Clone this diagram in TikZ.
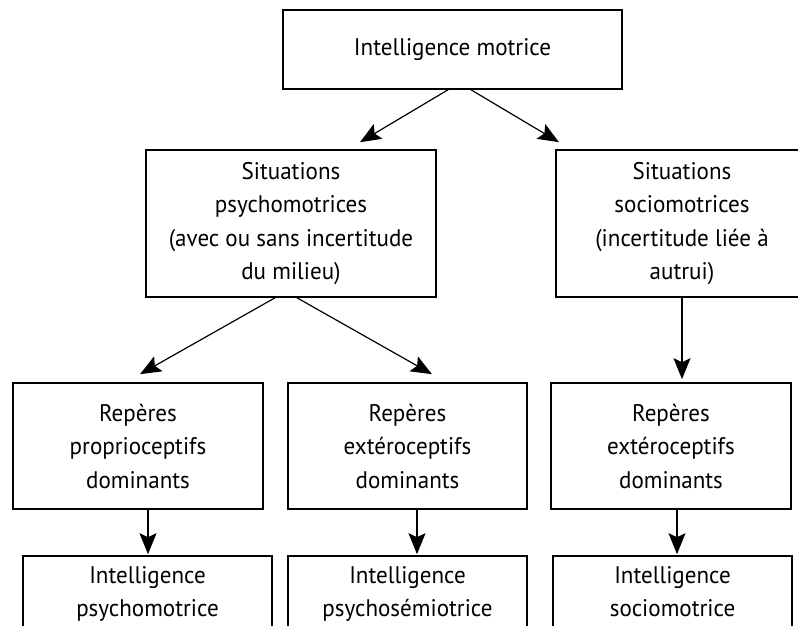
\documentclass[tikz,border=0pt]{standalone}
\usepackage{fontspec}
\setmainfont{PT Sans}[FakeStretch=0.96]
\usetikzlibrary{positioning,arrows.meta}

\begin{document}
\begin{tikzpicture}[x=1pt, y=-1pt, font=\fontsize{24}{33.5}\selectfont,
  boite/.style={draw, line width=1.6pt, align=center, inner sep=0pt},
  fleche/.style={-{Stealth[length=21pt,width=17pt,inset=4pt]}, line width=1.2pt}]
\useasboundingbox (0,0) rectangle (798,626);
\clip (0,0) rectangle (798,626);
% niveau 1
\node[boite, minimum width=339pt, minimum height=79pt] (motrice) at (452.5,49.5) {Intelligence motrice};
% niveau 2
\node[boite, minimum width=290pt, minimum height=147pt] (psy) at (291,223.5) {Situations\\ psychomotrices\\ (avec ou sans incertitude\\ du milieu)};
\node[boite, minimum width=252pt, minimum height=147pt] (soc) at (682,223.5) {Situations\\ sociomotrices\\ (incertitude liée à\\ autrui)};
% niveau 3
\node[boite, minimum width=250pt, minimum height=126pt] (propA) at (138,446) {Repères\\ proprioceptifs\\ dominants};
\node[boite, minimum width=239pt, minimum height=126pt] (extB) at (407.5,446) {Repères\\ extéroceptifs\\ dominants};
\node[boite, minimum width=240pt, minimum height=126pt] (extC) at (671,446) {Repères\\ extéroceptifs\\ dominants};
% niveau 4
\node[boite, minimum width=249pt, minimum height=76pt] (intA) at (147.5,594) {Intelligence\\ psychomotrice};
\node[boite, minimum width=239pt, minimum height=76pt] (intB) at (407.5,594) {Intelligence\\ psychosémiotrice};
\node[boite, minimum width=239pt, minimum height=76pt] (intC) at (672.5,594) {Intelligence\\ sociomotrice\vphantom{p}};
% fleches
\draw[fleche] ([xshift=-4.5pt]motrice.south) -- ([xshift=69pt,yshift=7pt]psy.north);
\draw[fleche] ([xshift=18.5pt]motrice.south) -- ([xshift=-123pt,yshift=7pt]soc.north);
\draw[fleche] ([xshift=-16pt]psy.south) -- ([xshift=2pt,yshift=8pt]propA.north);
\draw[fleche] ([xshift=6pt]psy.south) -- ([xshift=24.5pt,yshift=8pt]extB.north);
\draw[fleche] (soc.south) -- ([yshift=3pt]soc.south |- extC.north);
\draw[fleche] ([xshift=10pt]propA.south) -- ([xshift=10pt,yshift=1pt]propA.south |- intA.north);
\draw[fleche] ([xshift=9.5pt]extB.south) -- ([xshift=9.5pt,yshift=1pt]extB.south |- intB.north);
\draw[fleche] ([xshift=6pt]extC.south) -- ([xshift=6pt,yshift=1pt]extC.south |- intC.north);
\end{tikzpicture}
\end{document}
